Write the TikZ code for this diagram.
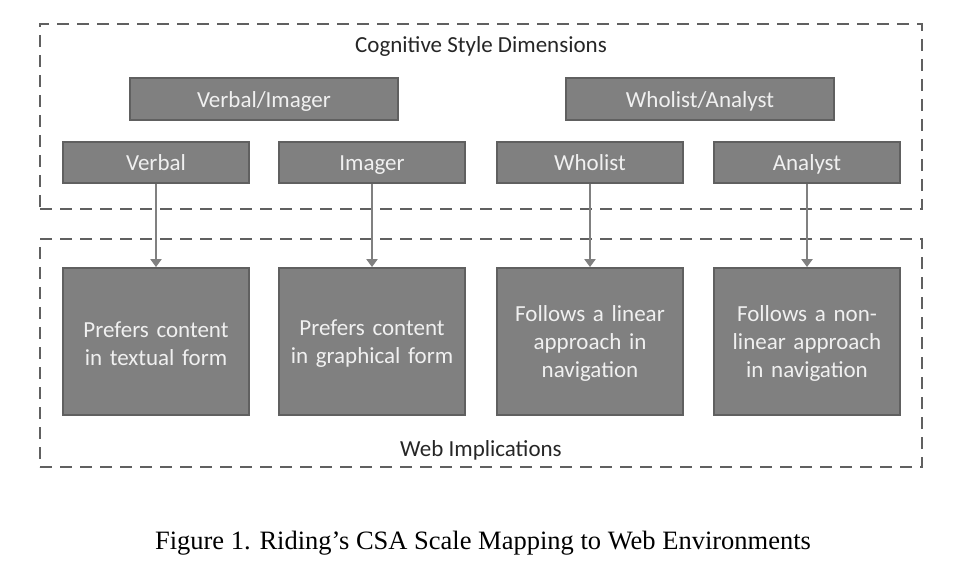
\documentclass[tikz,border=0pt]{standalone}
\usepackage{fontspec}
\setmainfont{Carlito}
\newfontfamily\capfont{Liberation Serif}
\usetikzlibrary{arrows.meta}
\definecolor{boxfill}{HTML}{808080}
\definecolor{boxline}{HTML}{606060}
\definecolor{boxtext}{HTML}{F0F0F0}
\definecolor{dashcol}{HTML}{606060}
\tikzset{
  grp/.style={draw=dashcol, line width=2pt, dash pattern=on 12pt off 8pt, rectangle, inner sep=0pt},
  cbox/.style={draw=boxline, fill=boxfill, line width=1.8pt, text=boxtext, inner sep=0pt,
    font=\fontsize{23}{28}\selectfont, align=center},
  hbox/.style={cbox, minimum width=268pt, minimum height=42pt, text height=19pt, text depth=2pt},
  sbox/.style={cbox, minimum width=186pt, minimum height=41pt, text height=19pt, text depth=2pt},
  tbox/.style={cbox, minimum width=186pt, minimum height=147pt, text width=180pt},
  lbl/.style={font=\fontsize{23}{28}\selectfont, text=black!85, inner sep=0pt, text height=19pt, text depth=2pt},
  arr/.style={draw=boxfill, line width=2.2pt, -{Triangle[width=11pt,length=8pt]}}
}
\begin{document}
\begin{tikzpicture}[x=1pt,y=-1pt]
\useasboundingbox (0,0) rectangle (972,580);
% groups
\node[grp, minimum width=882pt, minimum height=185pt] (top) at (481,116.5) {};
\node[grp, minimum width=882pt, minimum height=228pt] (bot) at (481,353) {};
\node[lbl] (toplbl) at (481,44) {Cognitive Style Dimensions};
\node[lbl] (botlbl) at (481,448) {Web Implications};
% header boxes
\node[hbox] (vi) at (264,99) {Verbal/Imager};
\node[hbox] (wa) at (700,99) {Wholist/Analyst};
% style boxes
\node[sbox] (v) at (156,162.5) {Verbal};
\node[sbox] (i) at (372,162.5) {Imager};
\node[sbox] (w) at (590,162.5) {Wholist};
\node[sbox] (a) at (807,162.5) {Analyst};
% implication boxes
\node[tbox] (vt) at (156,341.5) {\rule{0pt}{4pt}\\[-0.5em]Prefers content\\in textual form};
\node[tbox] (it) at (372,341.5) {\rule{0pt}{4pt}\\[-0.5em]Prefers content\\in graphical form};
\node[tbox] (wt) at (590,341.5) {\rule{0pt}{4pt}\\[-0.5em]Follows a linear\\approach in\\navigation};
\node[tbox] (at) at (807,341.5) {\rule{0pt}{4pt}\\[-0.5em]Follows a non-\\linear approach\\in navigation};
% arrows
\draw[arr] (v) -- (vt);
\draw[arr] (i) -- (it);
\draw[arr] (w) -- (wt);
\draw[arr] (a) -- (at);
% caption
\node[font=\capfont\fontsize{26.5}{30}\selectfont, inner sep=0pt] (cap) at (483,543)
  {Figure 1. Riding’s CSA Scale Mapping to Web Environments};
\end{tikzpicture}
\end{document}
